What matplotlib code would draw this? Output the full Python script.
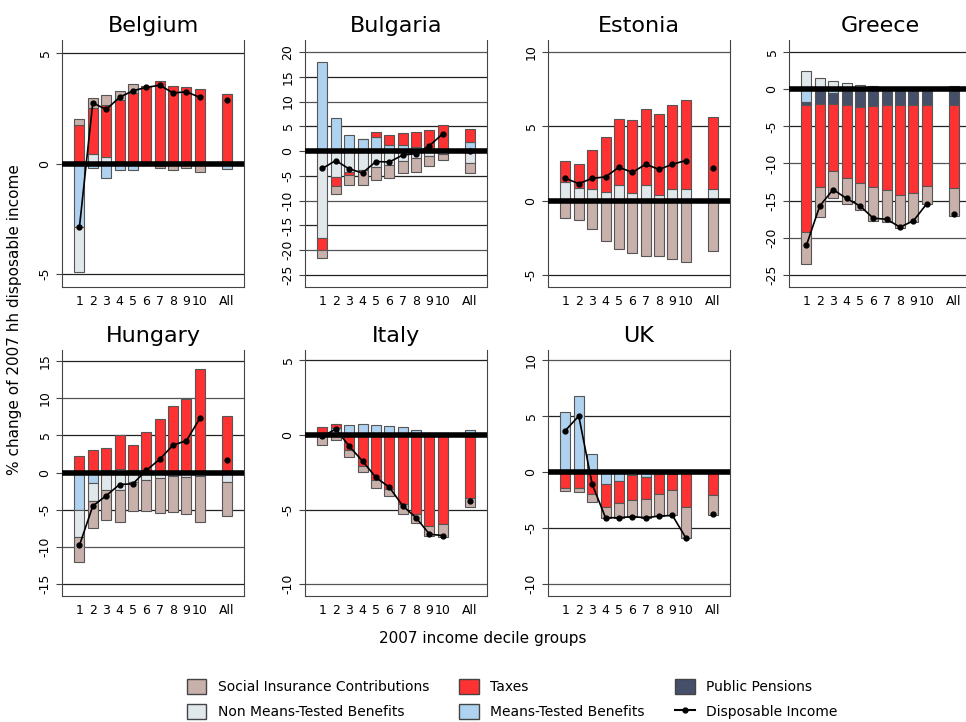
import matplotlib
matplotlib.use("Agg")
import matplotlib.pyplot as plt
from matplotlib.patches import Patch
from matplotlib.lines import Line2D
import numpy as np

countries = ["Belgium", "Bulgaria", "Estonia", "Greece", "Hungary", "Italy", "UK"]
xlabels = ["1", "2", "3", "4", "5", "6", "7", "8", "9", "10", "All"]

# per country: deciles 1..10 + All
sic = {
 "Belgium": [0.25,0.45,0.45,0.4,0.4,0,-0.1,-0.25,-0.15,-0.4,0],
 "Bulgaria":[-1.5,-1.6,-2.0,-3.0,-2.6,-2.6,-2.5,-3.0,-2.2,-1.3,-2.1],
 "Estonia": [-1.15,-1.3,-1.9,-2.7,-3.25,-3.5,-3.7,-3.7,-3.95,-4.1,-3.4],
 "Greece":  [-4.3,-4.0,-3.6,-3.5,-3.7,-4.6,-4.2,-4.4,-3.8,-2.5,-3.8],
 "Hungary": [-3.3,-3.7,-4.1,-4.3,-4.0,-4.2,-4.7,-4.9,-5.0,-6.3,-4.7],
 "Italy":   [-0.65,-0.35,-0.45,-0.4,-0.55,-0.5,-0.7,-0.6,-0.7,-0.85,-0.6],
 "UK":      [-0.3,-0.4,-0.7,-1.0,-1.3,-1.5,-1.7,-2.0,-2.3,-2.8,-1.8],
}
taxes = {
 "Belgium": [1.75,2.05,2.35,2.9,3.2,3.5,3.75,3.5,3.45,3.4,3.15],
 "Bulgaria":[-2.5,-1.8,-0.6,0,0.9,2.0,2.3,3.0,3.7,5.0,2.6],
 "Estonia": [1.4,1.6,2.6,3.7,4.45,4.9,5.1,5.4,5.6,6.0,4.8],
 "Greece":  [-17.0,-11.2,-9.0,-9.8,-10.2,-10.8,-11.5,-12.2,-11.9,-10.9,-11.1],
 "Hungary": [2.2,3.0,2.9,4.5,3.3,5.5,7.2,9.0,9.9,14.0,7.6],
 "Italy":   [0.55,0.3,-1.0,-2.1,-3.0,-3.6,-4.6,-5.3,-6.1,-6.0,-4.2],
 "UK":      [-1.4,-1.4,-2.0,-2.0,-2.0,-2.2,-1.9,-1.8,-1.45,-3.1,-2.1],
}
pensions = {
 "Greece":  [-0.4,-2.0,-1.5,-1.9,-2.2,-2.3,-2.1,-2.1,-2.1,-2.1,-2.2],
}
nmtb = {
 "Belgium": [-2.0,0.45,0.3,0,0,0,0,0,0,0,0],
 "Bulgaria":[-17.5,-5.2,-4.2,-3.8,-3.3,-2.8,-1.9,-1.3,-0.9,-0.5,-2.3],
 "Estonia": [1.25,0.85,0.8,0.6,1.05,0.5,1.05,0.4,0.8,0.8,0.8],
 "Greece":  [2.5,1.5,1.1,0.8,0.6,0.35,0.3,0.15,0.1,0.1,0.35],
 "Hungary": [-3.7,-2.4,-2.3,-2.3,-1.2,-1.0,-0.7,0,-0.6,-0.4,-1.2],
}
mtb = {
 "Belgium": [-2.9,-0.2,-0.65,-0.3,-0.3,-0.05,-0.1,-0.05,-0.05,0,-0.25],
 "Bulgaria":[18.0,6.7,3.2,2.4,2.9,1.2,1.3,0.8,0.5,0.3,1.8],
 "Greece":  [-1.8,0,-0.5,-0.3,-0.2,0,0,0,0,0,0],
 "Hungary": [-5.0,-1.4,0.4,0.5,0.4,0,0,-0.4,0,0,0],
 "Italy":   [0,0.45,0.7,0.75,0.7,0.6,0.55,0.35,0.15,0.1,0.35],
 "UK":      [5.4,6.8,1.6,-1.1,-0.8,-0.3,-0.5,-0.15,-0.15,0,0.15],
}
yticks = {
 "Belgium": [-5,0,5], "Bulgaria": [-25,-20,-15,-10,-5,0,5,10,15,20],
 "Estonia": [-5,0,5,10], "Greece": [-25,-20,-15,-10,-5,0,5],
 "Hungary": [-15,-10,-5,0,5,10,15], "Italy": [-10,-5,0,5], "UK": [-10,-5,0,5,10],
}
ylims = {
 "Belgium": (-5.6,5.6), "Bulgaria": (-27.4,22.4), "Estonia": (-5.8,10.8),
 "Greece": (-26.6,6.6), "Hungary": (-16.6,16.5), "Italy": (-10.8,5.7), "UK": (-11.1,10.9),
}

colors = {"sic": "#c9b1ab", "tax": "#fe3233", "pen": "#454f69", "nmtb": "#e1e8ec", "mtb": "#aed2ef"}
order = [("mtb", mtb), ("nmtb", nmtb), ("pen", pensions), ("tax", taxes), ("sic", sic)]

fig = plt.figure(figsize=(9.66, 7.22), dpi=100)
W, H = 966, 722
colx = [62, 305, 548, 789]
roww = 182
rows = [(40, 287), (350, 596)]
xpos = np.array(list(range(1, 11)) + [12])

for i, c in enumerate(countries):
    r, k = divmod(i, 4)
    top, bot = rows[r]
    ax = fig.add_axes([colx[k] / W, 1 - bot / H, roww / W, (bot - top) / H])
    ax.set_xlim(-0.3, 13.3)
    ax.set_ylim(*ylims[c])
    for t in yticks[c]:
        if t != 0:
            ax.axhline(t, color="#222222" if t % 10 == 5 or c in ("Belgium",) else "#555555", lw=0.9, zorder=0)
    pos = np.zeros(11); neg = np.zeros(11)
    for key, d in order:
        if c not in d:
            continue
        v = np.array(d[c], dtype=float)
        bottoms = np.where(v >= 0, pos, neg)
        ax.bar(xpos, v, bottom=bottoms, width=0.75, color=colors[key],
               edgecolor="#555555", linewidth=0.8, zorder=2)
        pos = pos + np.where(v > 0, v, 0)
        neg = neg + np.where(v < 0, v, 0)
    di = pos + neg
    ax.axhline(0, color="black", lw=4, zorder=3)
    ax.plot(xpos[:10], di[:10], color="black", lw=1.2, marker="o", ms=3.5, zorder=4)
    ax.plot(xpos[10], di[10], color="black", marker="o", ms=3.5, zorder=4)
    ax.set_title(c, fontsize=16, pad=6)
    ax.set_xticks(xpos)
    ax.set_xticklabels(xlabels, fontsize=9)
    ax.set_yticks(yticks[c])
    ax.set_yticklabels([str(t) for t in yticks[c]], fontsize=9, rotation=90, va="center")
    ax.spines["top"].set_visible(False)
    for s in ("left", "bottom", "right"):
        ax.spines[s].set_color("#444444")
    ax.tick_params(axis="x", length=0, pad=6)
    ax.tick_params(axis="y", length=4, color="#444444")

fig.text(15 / W, 1 - 320 / H, "% change of 2007 hh disposable income", rotation=90,
         ha="center", va="center", fontsize=11)
fig.text(483 / W, 1 - 638 / H, "2007 income decile groups", ha="center", va="center", fontsize=11)

ec = "#444444"
handles = [
    Patch(facecolor=colors["sic"], edgecolor=ec, label="Social Insurance Contributions"),
    Patch(facecolor=colors["nmtb"], edgecolor=ec, label="Non Means-Tested Benefits"),
    Patch(facecolor=colors["tax"], edgecolor=ec, label="Taxes"),
    Patch(facecolor=colors["mtb"], edgecolor=ec, label="Means-Tested Benefits"),
    Patch(facecolor=colors["pen"], edgecolor=ec, label="Public Pensions"),
    Line2D([0], [0], color="black", marker="o", ms=3.5, label="Disposable Income"),
]
fig.legend(handles=handles, ncol=3, loc="center", bbox_to_anchor=(512 / W, 1 - 699 / H),
           frameon=False, fontsize=10, handlelength=1.4, handleheight=1.3,
           columnspacing=2.2, labelspacing=0.7)
fig.savefig("out.png", dpi=100)
